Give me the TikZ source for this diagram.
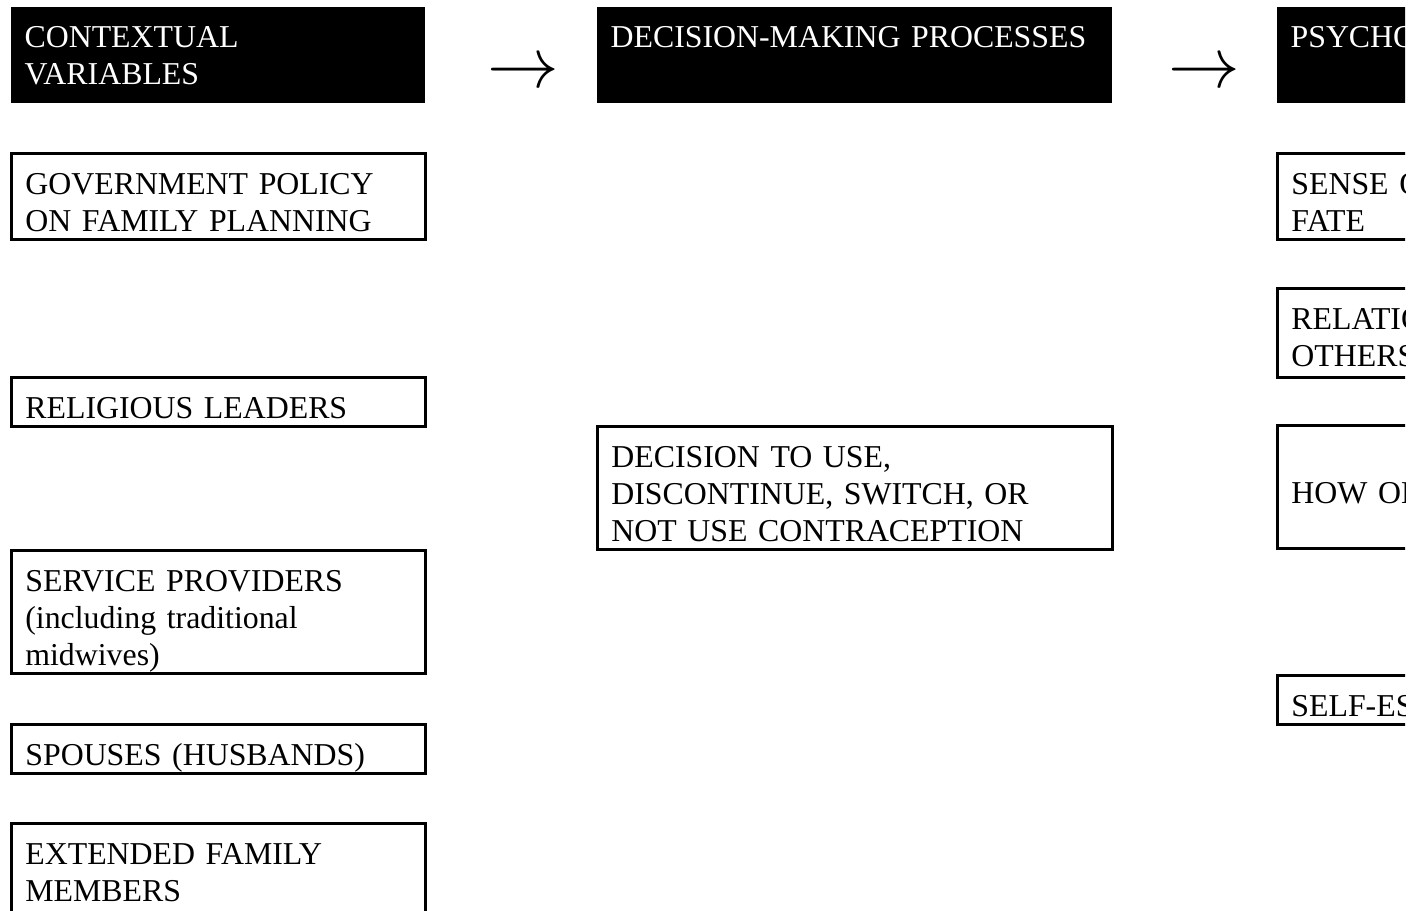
\documentclass[tikz,border=0pt]{standalone}
\usepackage{fontspec}
\setmainfont{Liberation Serif}
\usepackage{graphicx}
\begin{document}
\begin{tikzpicture}[x=0.377pt,y=-0.377pt,
        every node/.style={font=\fontsize{12}{13.9}\selectfont},
        cell/.style={anchor=north west,align=left,inner xsep=5.3pt,inner ysep=0pt,
          text width=145.5pt,text height=15.5pt,text depth=#1},
        head/.style={cell=20.7pt,fill=black,text=white},
        item/.style={cell=#1,draw,line width=1pt},
        wide/.style={text width=183.6pt}]
        \useasboundingbox (0,0) rectangle (1421,911);
        \clip (0,0) rectangle (1405,911);
        % headers
        \node [head] (ctxhead) at (10,6) {CONTEXTUAL\\VARIABLES};
        \node [head,wide] (dechead) at (596,6) {DECISION-MAKING PROCESSES};
        \node [head] (psyhead) at (1276,6) {PSYCHO};
        \node (arrowa) at (523,74) {\scalebox{2.25}{$\rightarrow$}};
        \node (arrowb) at (1204,74) {\scalebox{2.25}{$\rightarrow$}};
        % contextual variables
        \node [item=17pt] (gov) at (10,152) {GOVERNMENT POLICY\\ON FAMILY PLANNING};
        \node [item=3pt] (rel) at (10,376) {RELIGIOUS LEADERS};
        \node [item=31pt] (srv) at (10,549) {SERVICE PROVIDERS\\(including traditional\\midwives)};
        \node [item=3pt] (sps) at (10,723) {SPOUSES (HUSBANDS)};
        \node [item=31pt] (ext) at (10,822) {EXTENDED FAMILY\\MEMBERS};
        % decision
        \node [item=31pt,wide] (dec) at (596,425) {DECISION TO USE,\\DISCONTINUE, SWITCH, OR\\NOT USE CONTRACEPTION};
        % psychosocial
        \node [item=17pt] (fate) at (1276,152) {SENSE O\\FATE};
        \node [item=18pt] (oth) at (1276,287) {RELATIO\\OTHERS};
        \node [item=31pt] (how) at (1276,424) {~\\HOW ON};
        \node [item=3pt] (self) at (1276,674) {SELF-ES};
\end{tikzpicture}
\end{document}
